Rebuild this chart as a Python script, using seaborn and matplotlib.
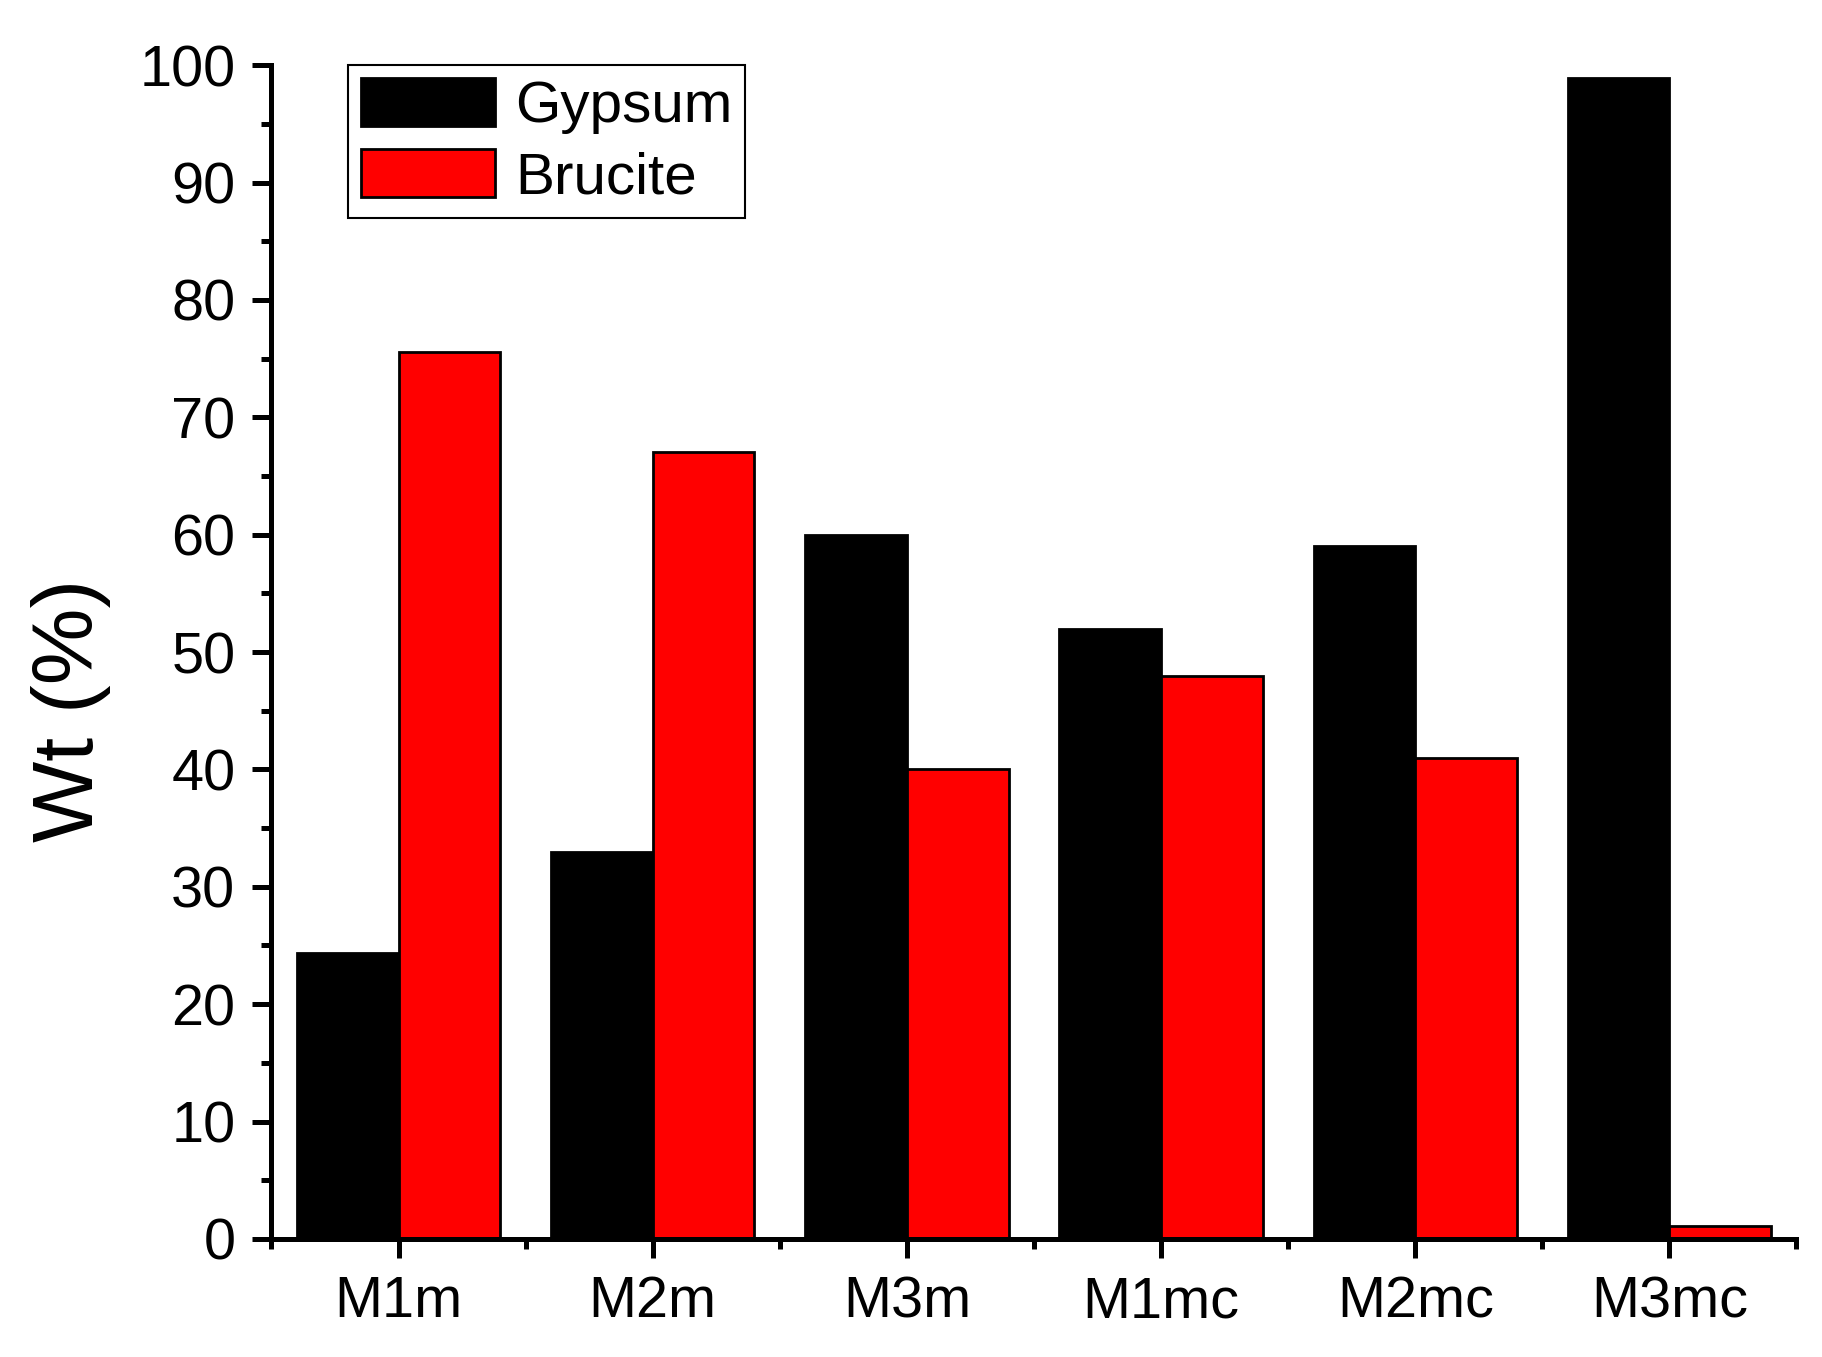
import pandas as pd
import numpy as np
import seaborn as sb
import matplotlib.pyplot as plt
from matplotlib.ticker import MultipleLocator, FixedLocator

# Date
probe = ["M1m", "M2m", "M3m", "M1mc", "M2mc", "M3mc"]
gypsum = [24.4, 33.0, 60.0, 52.0, 59.0, 98.9]
brucite = [75.6, 67.0, 40.0, 48.0, 41.0, 1.1]

df = pd.DataFrame({"Proba": probe * 2,
                   "Wt": gypsum + brucite,
                   "Faza": ["Gypsum"] * len(probe) + ["Brucite"] * len(probe)})

sb.set_style("ticks")
plt.rcParams['font.family'] = ['Liberation Sans', 'DejaVu Sans']
plt.rcParams['text.color'] = 'black'
plt.rcParams['axes.labelcolor'] = 'black'
plt.rcParams['xtick.color'] = 'black'
plt.rcParams['ytick.color'] = 'black'
plt.rcParams['axes.edgecolor'] = 'black'

fig = plt.figure(figsize=(18.22, 13.57), dpi=100)
ax = fig.add_axes([0.149, 0.087, 0.837, 0.865])

sb.barplot(data=df, x="Proba", y="Wt", hue="Faza", palette=["black", "red"],
           edgecolor="black", linewidth=2, width=0.8, saturation=1, ax=ax)

ax.set_xlim(-0.5, 5.5)
ax.set_ylim(0, 100)
ax.yaxis.set_major_locator(MultipleLocator(10))
ax.yaxis.set_minor_locator(MultipleLocator(5))
ax.xaxis.set_minor_locator(FixedLocator(np.arange(-0.5, 6, 1)))

for s in ['top', 'right']:
    ax.spines[s].set_visible(False)
for s in ['left', 'bottom']:
    ax.spines[s].set_linewidth(3.6)

ax.tick_params(which='major', direction='out', length=14, width=3.6, labelsize=41.5, pad=12,
               colors='black')
ax.tick_params(which='minor', direction='out', length=7.5, width=3.6, colors='black')
ax.set_xlabel("")
ax.set_ylabel("Wt (%)", fontsize=62, labelpad=28, color='black')
ax.yaxis.set_label_coords(-0.105, 0.45)

leg = ax.legend(loc='upper left', bbox_to_anchor=(0.05, 1.0), fontsize=42, frameon=True,
                fancybox=False, edgecolor='black', framealpha=1, handlelength=2.3,
                handleheight=0.9, labelspacing=0.25, borderpad=0.22, handletextpad=0.35,
                borderaxespad=0)
leg.get_frame().set_linewidth(1.5)
for t in leg.get_texts():
    t.set_color('black')

fig.savefig("out.png", dpi=100)
